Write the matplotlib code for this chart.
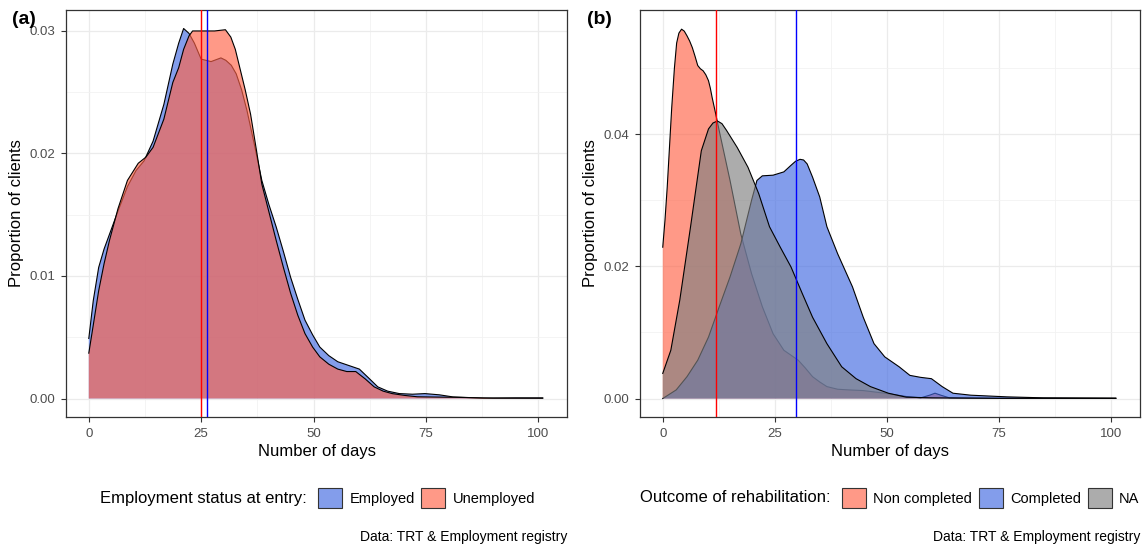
import numpy as np
import matplotlib.pyplot as plt
from matplotlib.patches import Patch

plt.rcParams['font.family'] = ['Liberation Sans', 'DejaVu Sans']

# Panel (a): employment status at entry
emp_days = [0, 1.0, 2.2, 3.4, 4.6, 6.5, 8.6, 10.5, 12.3, 14.3, 16.7, 18.7, 20.0, 21.1,
            22.3, 23.5, 25, 27.2, 29.4, 30.5, 31.7, 32.8, 34.0, 35.2, 36.8, 38.5, 40.1,
            41.7, 43.3, 44.9, 46.5, 48.1, 49.8, 51.4, 53.4, 55.4, 57.8, 60.2, 62.2, 64.3,
            66.5, 69.1, 72.0, 74.8, 78, 81, 87.7, 95, 101]
emp_dens = [0.0049, 0.0080, 0.0107, 0.0122, 0.0134, 0.0153, 0.0173, 0.0186, 0.0194, 0.0210,
            0.0240, 0.0273, 0.0290, 0.0302, 0.0298, 0.0290, 0.0277, 0.0275, 0.0278, 0.0276,
            0.0272, 0.0265, 0.0252, 0.0235, 0.0208, 0.0178, 0.0158, 0.0140, 0.0120, 0.0099,
            0.0081, 0.0064, 0.0052, 0.0042, 0.0035, 0.0030, 0.0027, 0.0024, 0.0017, 0.00095,
            0.0006, 0.0004, 0.00035, 0.0004, 0.0003, 0.00013, 0.00003, 0.00005, 0.00005]

unemp_days = [0, 1.0, 2.2, 3.4, 4.6, 6.5, 8.6, 11.0, 12.7, 14.3, 16.7, 18.7, 20.0, 21.1,
              22.3, 23.1, 26, 28, 30.4, 31.6, 32.6, 33.6, 34.8, 36, 37.2, 38.5, 40.1, 41.7,
              43.3, 44.9, 46.5, 48.1, 49.8, 51.4, 53.4, 55.4, 57.4, 59.4, 61.5, 63.5, 65.5,
              67.5, 70.3, 73.1, 81, 90, 101]
unemp_dens = [0.0037, 0.0060, 0.0088, 0.0110, 0.0129, 0.0155, 0.0178, 0.0192, 0.0197, 0.0205,
              0.0228, 0.0258, 0.0270, 0.0285, 0.0296, 0.0300, 0.0300, 0.0300, 0.0301, 0.0295,
              0.0285, 0.0270, 0.0252, 0.0232, 0.0205, 0.0175, 0.0152, 0.0129, 0.0107, 0.0086,
              0.0068, 0.0053, 0.0042, 0.0034, 0.0028, 0.0024, 0.0022, 0.0022, 0.0016, 0.00095,
              0.0006, 0.0004, 0.00025, 0.00014, 0.0001, 0.00003, 0.00002]

mean_a = {'Unemployed': 25.0, 'Employed': 26.3}

# Panel (b): outcome of rehabilitation
nc_days = [0, 0.5, 1.0, 1.5, 2.0, 2.6, 3.1, 3.6, 4.2, 4.8, 5.4, 6.0, 6.6, 7.2, 7.8, 8.4,
           9.0, 9.6, 10.2, 10.6, 11.0, 11.8, 12.6, 13.4, 15.0, 17.4, 19.8, 22.2, 24.6, 27,
           30.2, 31.8, 33.4, 35.0, 36.6, 39, 41.5, 44.7, 49.5, 54.3, 57.5, 59.5, 60.7, 62,
           63.9, 75, 101]
nc_dens = [0.0229, 0.0270, 0.0320, 0.0380, 0.0440, 0.0500, 0.0538, 0.0553, 0.0559, 0.0556,
           0.0549, 0.0541, 0.0531, 0.0518, 0.0504, 0.0499, 0.0496, 0.0490, 0.0481, 0.0470,
           0.0456, 0.0431, 0.0405, 0.0380, 0.0330, 0.0249, 0.0189, 0.0139, 0.0098, 0.0073,
           0.0058, 0.0046, 0.0033, 0.0025, 0.0018, 0.0014, 0.0013, 0.0012, 0.0008, 0.0003,
           0.0001, 0.0005, 0.0008, 0.0005, 0.0001, 0.00003, 0.00002]

comp_days = [0, 3, 5.4, 7.8, 10.2, 12.6, 15, 17.4, 19.8, 21, 22.2, 24.6, 27, 28.6, 29.6,
             30.6, 31.4, 32.2, 33.4, 35, 36.6, 39, 42.3, 44.7, 47.1, 49.5, 52.7, 55.1, 57.5,
             59.9, 62.3, 64.7, 68.7, 76.7, 84.8, 101]
comp_dens = [0.0, 0.0013, 0.0033, 0.0058, 0.0093, 0.0139, 0.0184, 0.0234, 0.0300, 0.0330,
             0.0337, 0.0338, 0.0343, 0.0353, 0.0359, 0.0362, 0.0361, 0.0355, 0.0335, 0.0305,
             0.0260, 0.0219, 0.0169, 0.0123, 0.0083, 0.0063, 0.0048, 0.0035, 0.0032, 0.0030,
             0.0018, 0.0008, 0.0005, 0.00025, 0.0001, 0.00005]

na_days = [0, 1.8, 3.8, 6.2, 8.6, 10.2, 11.2, 12.2, 13.2, 14.2, 16.6, 19.0, 21.4, 23.8,
           26.2, 28.6, 31.1, 33.4, 36.6, 39.9, 43.1, 46.3, 50.3, 54.3, 60, 75, 101]
na_dens = [0.0038, 0.0073, 0.0149, 0.0260, 0.0375, 0.0408, 0.0417, 0.0420, 0.0416, 0.0406,
           0.0380, 0.0350, 0.0310, 0.0260, 0.0229, 0.0199, 0.0159, 0.0123, 0.0083, 0.0048,
           0.0030, 0.0018, 0.0008, 0.0002, 0.0001, 0.00003, 0.00002]

mean_b = {'Non completed': 11.8, 'Completed': 29.6}

blue = (0.255, 0.412, 0.882, 0.65)
red = (1.0, 0.388, 0.278, 0.65)
grey = (0.5, 0.5, 0.5, 0.65)

fig = plt.figure(figsize=(11.42, 5.44), dpi=100)
ax_a = fig.add_axes([66 / 1142, 1 - 417 / 544, 501 / 1142, 407 / 544])
ax_b = fig.add_axes([640 / 1142, 1 - 417 / 544, 500 / 1142, 407 / 544])


def density(ax, x, y, color, z):
    ax.fill_between(x, 0, y, facecolor=color, edgecolor='none', zorder=z)
    ax.plot(x, y, color='black', lw=0.8, zorder=z + 0.1)


def style(ax, ymax, yticks, yminor):
    ax.set_xlim(-5.07, 106.4)
    ax.set_ylim(-ymax * 0.05, ymax * 1.05)
    ax.set_xticks([0, 25, 50, 75, 100])
    ax.set_xticks([12.5, 37.5, 62.5, 87.5], minor=True)
    ax.set_yticks(yticks)
    ax.set_yticks(yminor, minor=True)
    ax.grid(True, which='major', color='#ebebeb', lw=0.9, zorder=0)
    ax.grid(True, which='minor', color='#f2f2f2', lw=0.6, zorder=0)
    ax.set_axisbelow(True)
    ax.tick_params(which='major', length=3.6, width=0.8, color='#333333',
                   labelcolor='#4d4d4d', labelsize=9.5, pad=4)
    ax.tick_params(which='minor', length=0)
    for s in ax.spines.values():
        s.set_color('#333333')
        s.set_linewidth(0.9)
    ax.set_xlabel('Number of days', fontsize=12, labelpad=3)
    ax.set_ylabel('Proportion of clients', fontsize=12, labelpad=4)


density(ax_a, emp_days, emp_dens, blue, 2)
density(ax_a, unemp_days, unemp_dens, red, 3)
ax_a.axvline(mean_a['Unemployed'], color='red', lw=1.0, zorder=5)
ax_a.axvline(mean_a['Employed'], color='blue', lw=1.0, zorder=5)
style(ax_a, 0.0302, [0, 0.01, 0.02, 0.03], [0.005, 0.015, 0.025])
ax_a.yaxis.set_major_formatter(plt.FormatStrFormatter('%.2f'))

density(ax_b, nc_days, nc_dens, red, 2)
density(ax_b, comp_days, comp_dens, blue, 3)
density(ax_b, na_days, na_dens, grey, 4)
ax_b.axvline(mean_b['Non completed'], color='red', lw=1.0, zorder=6)
ax_b.axvline(mean_b['Completed'], color='blue', lw=1.0, zorder=6)
style(ax_b, 0.056, [0, 0.02, 0.04], [0.01, 0.03, 0.05])
ax_b.yaxis.set_major_formatter(plt.FormatStrFormatter('%.2f'))

fig.text(12 / 1142, 1 - 19 / 544, '(a)', fontsize=14, fontweight='bold', va='center')
fig.text(587 / 1142, 1 - 19 / 544, '(b)', fontsize=14, fontweight='bold', va='center')

# legends
leg_y = 1 - 498 / 544
fig.text(100 / 1142, leg_y, 'Employment status at entry:', fontsize=12, va='center')
h_a = [Patch(facecolor=blue, edgecolor='#333333', lw=0.8, label='Employed'),
       Patch(facecolor=red, edgecolor='#333333', lw=0.8, label='Unemployed')]
fig.legend(handles=h_a, loc='center left', bbox_to_anchor=(318 / 1142, leg_y), ncol=2,
           frameon=False, fontsize=10.5, handlelength=1.65, handleheight=1.65,
           handletextpad=0.5, columnspacing=0.45, borderpad=0, borderaxespad=0)

fig.text(640 / 1142, leg_y, 'Outcome of rehabilitation:', fontsize=12, va='center')
h_b = [Patch(facecolor=red, edgecolor='#333333', lw=0.8, label='Non completed'),
       Patch(facecolor=blue, edgecolor='#333333', lw=0.8, label='Completed'),
       Patch(facecolor=grey, edgecolor='#333333', lw=0.8, label='NA')]
fig.legend(handles=h_b, loc='center left', bbox_to_anchor=(842 / 1142, leg_y), ncol=3,
           frameon=False, fontsize=10.5, handlelength=1.65, handleheight=1.65,
           handletextpad=0.5, columnspacing=0.45, borderpad=0, borderaxespad=0)

fig.text(567 / 1142, 1 - 537 / 544, 'Data: TRT & Employment registry', fontsize=10,
         ha='right', va='center')
fig.text(1140 / 1142, 1 - 537 / 544, 'Data: TRT & Employment registry', fontsize=10,
         ha='right', va='center')

fig.savefig('out.png', dpi=100)
